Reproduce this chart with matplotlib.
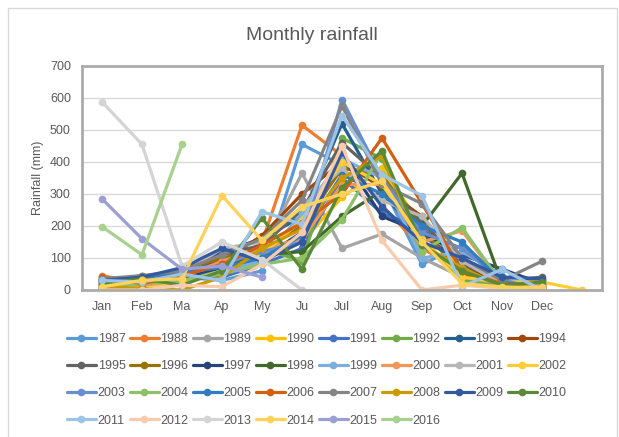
import numpy as np
import matplotlib
matplotlib.use("Agg")
import matplotlib.pyplot as plt
from matplotlib.patches import Rectangle

plt.rcParams['font.family'] = ['Liberation Sans', 'DejaVu Sans']

MONTHS = ["Jan", "Feb", "Ma", "Ap", "My", "Ju", "Jul", "Aug", "Sep", "Oct", "Nov", "Dec", ""]
YEARS = [str(y) for y in range(1987, 2017)]

# monthly rainfall (mm), one list per year; missing months are left off
r1987 = [25, 10, 40, 30, 60, 455, 390, 330, 80, 140, 40, 5]
r1988 = [45, 20, 30, 60, 150, 515, 420, 265, 130, 60, 20, 10]
r1989 = [10, 40, 25, 100, 120, 365, 130, 175, 100, 40, 10, 5]
r1990 = [5, 15, 30, 50, 90, 150, 290, 380, 200, 60, 15, 10]
r1991 = [15, 20, 50, 40, 80, 130, 350, 240, 190, 100, 30, 5]
r1992 = [20, 35, 20, 70, 130, 90, 475, 410, 150, 30, 10, 5]
r1993 = [30, 25, 60, 120, 160, 230, 520, 300, 170, 90, 20, 10]
r1994 = [35, 40, 55, 90, 170, 300, 400, 320, 230, 70, 25, 15]
r1995 = [25, 45, 35, 110, 140, 250, 460, 350, 210, 80, 30, 40]
r1996 = [10, 30, 65, 100, 120, 200, 380, 360, 190, 50, 20, 30]
r1997 = [5, 20, 40, 70, 100, 180, 420, 230, 180, 110, 65, 20]
r1998 = [15, 30, 45, 80, 110, 120, 230, 310, 200, 365, 20, 10]
r1999 = [40, 15, 25, 60, 90, 240, 410, 350, 100, 120, 45, 5]
r2000 = [30, 10, 40, 90, 130, 160, 330, 330, 150, 185, 20, 20]
r2001 = [20, 25, 50, 130, 150, 260, 380, 280, 230, 90, 20, 5]
r2002 = [10, 5, 20, 60, 110, 220, 400, 330, 160, 40, 25, 25, 0]
r2003 = [25, 30, 45, 80, 120, 150, 595, 350, 180, 130, 30, 5]
r2004 = [5, 20, 30, 50, 80, 100, 220, 430, 120, 195, 20, 10]
r2005 = [30, 40, 55, 70, 100, 170, 360, 300, 200, 150, 25, 5]
r2006 = [40, 20, 45, 80, 140, 210, 300, 475, 270, 60, 20, 15]
r2007 = [35, 45, 60, 110, 160, 280, 575, 330, 270, 100, 30, 90]
r2008 = [10, 5, 0, 40, 130, 190, 350, 420, 140, 70, 10, 20]
r2009 = [30, 40, 70, 130, 90, 150, 430, 260, 150, 100, 40, 35]
r2010 = [20, 35, 15, 60, 225, 65, 320, 435, 140, 60, 15, 25]
r2011 = [30, 25, 50, 30, 245, 205, 545, 360, 295, 10, 65, 0]
r2012 = [0, 0, 15, 10, 80, 180, 450, 155, 0, 15, 5, 10]
r2013 = [588, 455, 75, 150, 95, 0]
r2014 = [10, 30, 35, 295, 155, 260, 300, 340, 150, 20, 10, 5]
r2015 = [285, 160, 65, 75, 40]
r2016 = [198, 110, 455]

RAIN = [r1987, r1988, r1989, r1990, r1991, r1992, r1993, r1994, r1995, r1996,
        r1997, r1998, r1999, r2000, r2001, r2002, r2003, r2004, r2005, r2006,
        r2007, r2008, r2009, r2010, r2011, r2012, r2013, r2014, r2015, r2016]

COLORS = ["#5B9BD5", "#ED7D31", "#A5A5A5", "#FFC000", "#4472C4", "#70AD47",
          "#255E91", "#9E480E", "#636363", "#997300", "#264478", "#43682B",
          "#7CAFDD", "#F1975A", "#B7B7B7", "#FFCD33", "#698ED0", "#8CC168",
          "#327DC2", "#D26012", "#848484", "#CC9A00", "#335AA1", "#5A8A39",
          "#9DC3E6", "#F8CBAD", "#D4D4D4", "#FFD25A", "#9C9ED6", "#A9D18E"]

TXT = "#595959"
NCOL = 8

fig = plt.figure(figsize=(6.19, 4.37), dpi=100)
fig.patches.append(Rectangle((8 / 619, -0.01), 609 / 619, 1 - 8 / 437 + 0.01,
                             transform=fig.transFigure, fill=False,
                             edgecolor="#D9D9D9", linewidth=1))

ax = fig.add_axes([82 / 619, 1 - 290 / 437, 520 / 619, 224 / 437])

handles = []
for year, vals, col in zip(YEARS, RAIN, COLORS):
    x = np.arange(len(vals))
    h, = ax.plot(x, vals, color=col, linewidth=2.3, marker="o", markersize=5.5,
                 markeredgewidth=0, label=year, solid_capstyle="round",
                 solid_joinstyle="round")
    handles.append(h)

ax.set_xlim(-0.5, len(MONTHS) - 0.5)
ax.set_ylim(0, 700)
ax.set_yticks(range(0, 701, 100))
ax.set_xticks(range(len(MONTHS)))
ax.set_xticklabels(MONTHS)
ax.tick_params(length=0, labelsize=9, colors=TXT, pad=8)
ax.grid(axis="y", color="#D9D9D9", linewidth=1)
ax.set_axisbelow(True)
for s in ax.spines.values():
    s.set_color("#ABABAB")
    s.set_linewidth(2)
ax.set_ylabel("Rainfall (mm)", fontsize=9, color=TXT, labelpad=4)
fig.text(312 / 619, 1 - 35 / 437, "Monthly rainfall", ha="center", va="center",
         fontsize=14, color=TXT)

# legend fills column by column, so reorder to read row by row like Excel
nrows = -(-len(handles) // NCOL)
order = [r * NCOL + c for c in range(NCOL) for r in range(nrows) if r * NCOL + c < len(handles)]
fig.legend([handles[i] for i in order], [YEARS[i] for i in order],
           loc="upper left", bbox_to_anchor=(67 / 619, 1 - 333 / 437), ncol=NCOL,
           frameon=False, fontsize=9, handlelength=2.3, handletextpad=0.15,
           columnspacing=0.35, labelspacing=1.22, borderpad=0, borderaxespad=0,
           labelcolor=TXT)

fig.savefig("out.png", dpi=100)
